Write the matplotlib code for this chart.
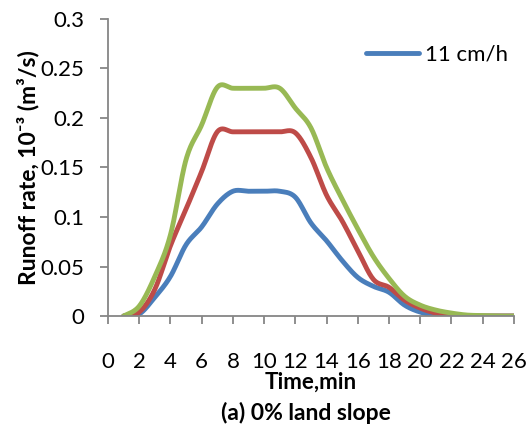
import numpy as np
import matplotlib
matplotlib.use("Agg")
import matplotlib.pyplot as plt

# ---- data ----
time_min = [1, 2, 3, 4, 5, 6, 7, 8, 9, 10, 11, 12, 13, 14, 15, 16, 17, 18, 19, 20, 21, 22, 23, 24, 25, 26]
runoff_blue = [0, 0.002, 0.019, 0.040, 0.072, 0.090, 0.113, 0.126, 0.126, 0.126, 0.126, 0.120, 0.094, 0.076,
               0.056, 0.039, 0.030, 0.024, 0.011, 0.004, 0.001, 0, 0, 0, 0, 0]
runoff_red = [0, 0.004, 0.027, 0.071, 0.108, 0.146, 0.186, 0.186, 0.186, 0.186, 0.186, 0.185, 0.160, 0.122,
              0.096, 0.066, 0.037, 0.029, 0.016, 0.008, 0.003, 0.001, 0, 0, 0, 0]
runoff_green = [0, 0.010, 0.040, 0.082, 0.158, 0.193, 0.231, 0.230, 0.230, 0.230, 0.230, 0.210, 0.190, 0.150,
                0.118, 0.088, 0.060, 0.038, 0.020, 0.011, 0.006, 0.003, 0.001, 0.0005, 0, 0]
legend_label = "11 cm/h"
x_ticks = list(range(0, 27, 2))
y_ticks = [0, 0.05, 0.1, 0.15, 0.2, 0.25, 0.3]
y_tick_labels = ["0", "0.05", "0.1", "0.15", "0.2", "0.25", "0.3"]


def smooth(x, y, n=24):
    """Catmull-Rom smoothing like a spreadsheet 'smoothed line'."""
    x = np.asarray(x, float)
    y = np.asarray(y, float)
    px = np.concatenate([[x[0]], x, [x[-1]]])
    py = np.concatenate([[y[0]], y, [y[-1]]])
    xs, ys = [], []
    for i in range(1, len(px) - 2):
        t = np.linspace(0, 1, n, endpoint=False)
        for arr, out in ((px, xs), (py, ys)):
            p0, p1, p2, p3 = arr[i - 1], arr[i], arr[i + 1], arr[i + 2]
            out.extend(0.5 * ((2 * p1) + (-p0 + p2) * t + (2 * p0 - 5 * p1 + 4 * p2 - p3) * t ** 2
                              + (-p0 + 3 * p1 - 3 * p2 + p3) * t ** 3))
    xs.append(x[-1])
    ys.append(y[-1])
    return np.array(xs), np.array(ys)


plt.rcParams['font.family'] = ['Lato', 'DejaVu Sans']

fig = plt.figure(figsize=(5.32, 4.30), dpi=100)
ax = fig.add_axes([0.203, 0.265, 0.763, 0.691])

lw = 3.5
xb, yb = smooth(time_min, runoff_blue)
xr, yr = smooth(time_min, runoff_red)
xg, yg = smooth(time_min, runoff_green)
ax.plot(xb, yb, color='#4a7ebb', lw=lw, solid_capstyle='round', label=legend_label)
ax.plot(xr, yr, color='#be4b48', lw=lw, solid_capstyle='round', label='_nolegend_')
ax.plot(xg, yg, color='#98b954', lw=lw, solid_capstyle='round', label='_nolegend_')

ax.set_xlim(0, 26)
ax.set_ylim(0, 0.3)
ax.set_xticks(x_ticks)
ax.set_yticks(y_ticks)
ax.set_yticklabels(y_tick_labels)

for s in ['top', 'right']:
    ax.spines[s].set_visible(False)
for s in ['left', 'bottom']:
    ax.spines[s].set_color('#868686')
    ax.spines[s].set_linewidth(1.3)

ax.tick_params(axis='x', direction='out', length=6, width=1.3, color='#868686',
               labelsize=16, pad=20, labelcolor='black')
ax.tick_params(axis='y', direction='out', length=6, width=1.3, color='#868686',
               labelsize=16, pad=11, labelcolor='black')

ax.set_ylabel("Runoff rate, 10\u207b\u00b3 (m\u00b3/s)", fontsize=16.5, fontweight='bold', labelpad=1)
ax.set_xlabel("Time,min", fontsize=16, fontweight='bold', labelpad=0)
fig.text(0.575, 0.040, "(a) 0% land slope", fontsize=16.5, fontweight='bold', ha='center', va='center')

ax.legend(loc='center left', bbox_to_anchor=(0.635, 0.879), frameon=False, fontsize=16,
          handlelength=2.4, handletextpad=0.25, borderpad=0, borderaxespad=0)

fig.savefig('out.png', dpi=100)
